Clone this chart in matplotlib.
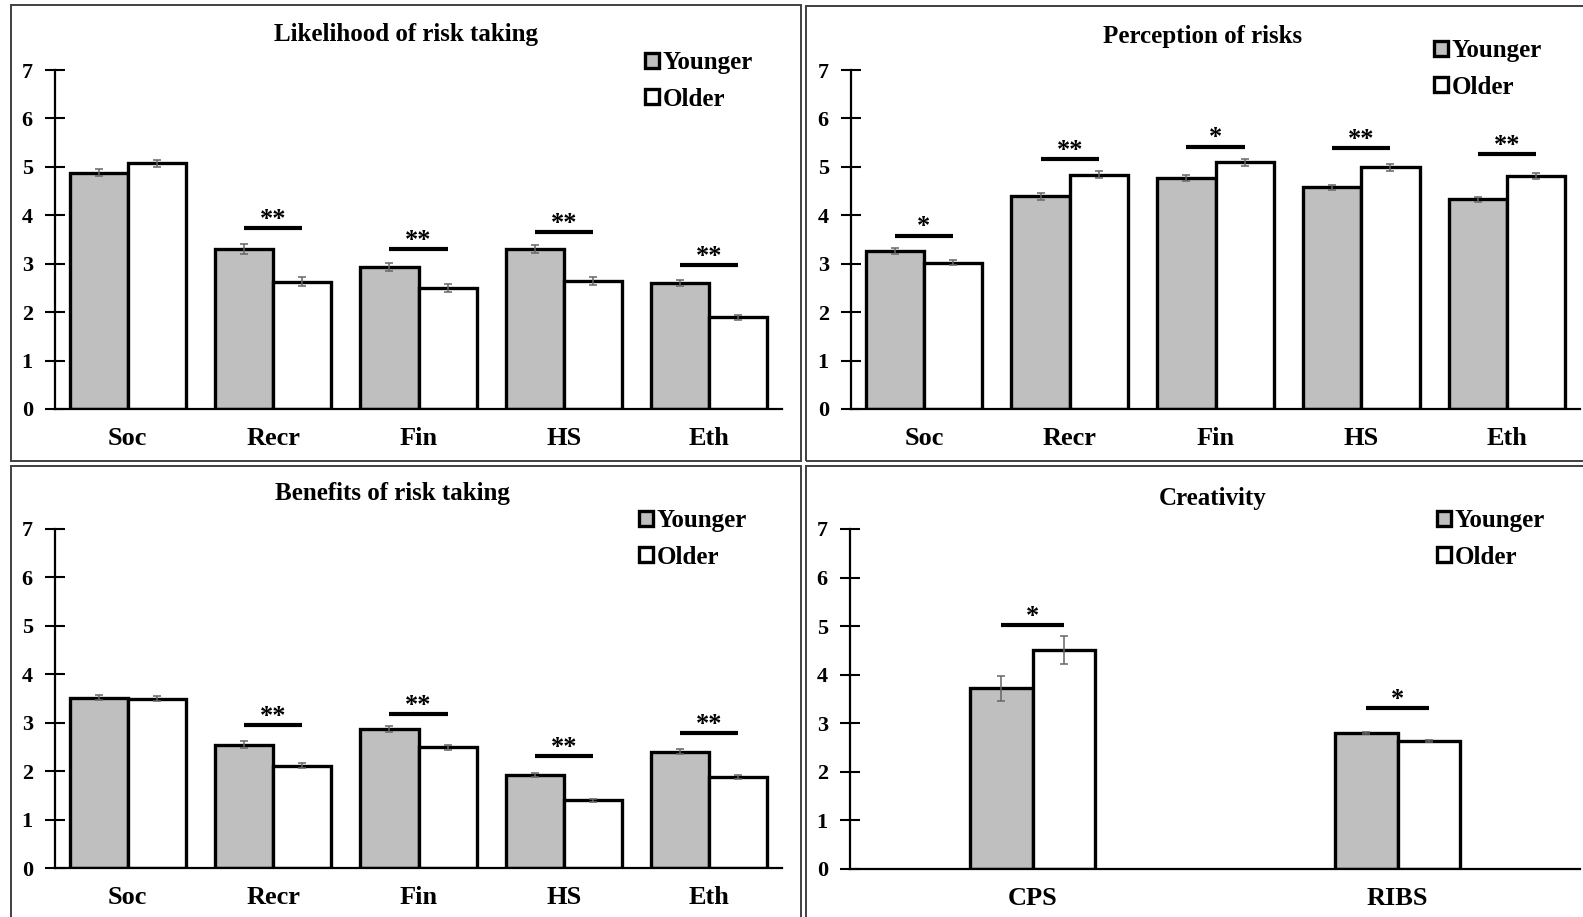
import matplotlib
matplotlib.use('Agg')
import matplotlib.pyplot as plt
from matplotlib.patches import Rectangle
import numpy as np

plt.rcParams['font.family'] = ['Liberation Serif', 'DejaVu Serif']
plt.rcParams['font.weight'] = 'bold'

### Data

domains = ['Soc', 'Recr', 'Fin', 'HS', 'Eth']
groups = ['Younger', 'Older']

# Likelihood of risk taking
like_young = [4.88, 3.30, 2.93, 3.30, 2.60]
like_old = [5.07, 2.63, 2.50, 2.65, 1.89]
like_young_err = [0.07, 0.10, 0.08, 0.08, 0.06]
like_old_err = [0.07, 0.10, 0.08, 0.08, 0.05]
like_sig = ['', '**', '**', '**', '**']
like_sig_y = [None, 3.73, 3.30, 3.65, 2.97]

# Perception of risks
perc_young = [3.27, 4.39, 4.77, 4.58, 4.33]
perc_old = [3.02, 4.84, 5.09, 4.99, 4.81]
perc_young_err = [0.06, 0.07, 0.06, 0.05, 0.05]
perc_old_err = [0.05, 0.07, 0.07, 0.07, 0.06]
perc_sig = ['*', '**', '*', '**', '**']
perc_sig_y = [3.58, 5.16, 5.42, 5.38, 5.27]

# Benefits of risk taking
bene_young = [3.52, 2.55, 2.87, 1.92, 2.40]
bene_old = [3.50, 2.11, 2.49, 1.40, 1.88]
bene_young_err = [0.06, 0.07, 0.06, 0.05, 0.05]
bene_old_err = [0.06, 0.05, 0.06, 0.03, 0.04]
bene_sig = ['', '**', '**', '**', '**']
bene_sig_y = [None, 2.95, 3.18, 2.31, 2.79]

# Creativity
crea_measures = ['CPS', 'RIBS']
crea_young = [3.72, 2.80]
crea_old = [4.51, 2.63]
crea_young_err = [0.26, 0.03]
crea_old_err = [0.29, 0.02]
crea_sig = ['*', '*']
crea_sig_y = [5.02, 3.31]

### Layout helpers (pixel coords, origin top-left)

W, H = 1583, 917
fig = plt.figure(figsize=(W / 100, H / 100), dpi=100)

def ax_rect(x0, y0, x1, y1):
    return [x0 / W, 1 - y1 / H, (x1 - x0) / W, (y1 - y0) / H]

def fig_xy(x, y):
    return x / W, 1 - y / H

def panel_box(x0, y0, x1, y1):
    r = Rectangle((x0 / W, 1 - y1 / H), (x1 - x0) / W, (y1 - y0) / H,
                  transform=fig.transFigure, fill=False, ec='#404040', lw=1.4)
    fig.add_artist(r)

def draw_panel(rect, cats, young, old, yerr, oerr, sig, sig_y, width,
               title, title_xy, legend_xy):
    ax = fig.add_axes(rect)
    x = np.arange(len(cats))
    bar_kw = dict(edgecolor='black', linewidth=2.4,
                  error_kw=dict(ecolor='#666666', elinewidth=1.1, capsize=3, capthick=1.1))
    ax.bar(x - width / 2, young, width, yerr=yerr, color='#bfbfbf', label=groups[0], **bar_kw)
    ax.bar(x + width / 2, old, width, yerr=oerr, color='white', label=groups[1], **bar_kw)

    # Significance bars
    for i, s in enumerate(sig):
        if not s:
            continue
        ax.plot([x[i] - width / 2, x[i] + width / 2], [sig_y[i], sig_y[i]],
                color='black', lw=3, solid_capstyle='butt')
        ax.annotate(s, (x[i], sig_y[i]), xytext=(0, -2), textcoords='offset points',
                    ha='center', va='bottom', fontsize=19, fontweight='bold')

    ax.set_xlim(-0.5, len(cats) - 0.5)
    ax.set_ylim(0, 7)
    ax.set_yticks(range(8))
    ax.set_xticks(x)
    ax.set_xticklabels(cats, fontsize=19, fontweight='bold')
    for lab in ax.get_yticklabels():
        lab.set_fontsize(16)
        lab.set_fontweight('bold')
    ax.tick_params(axis='y', direction='inout', length=14, width=1.5, pad=9)
    ax.tick_params(axis='x', length=0, pad=13)
    for side in ['top', 'right']:
        ax.spines[side].set_visible(False)
    ax.spines['left'].set_linewidth(1.6)
    ax.spines['bottom'].set_linewidth(1.6)
    ax.patch.set_visible(False)

    tx, ty = fig_xy(*title_xy)
    fig.text(tx, ty, title, ha='center', va='center', fontsize=18, fontweight='bold')

    lx, ly = fig_xy(*legend_xy)
    ax.legend(loc='upper left', bbox_to_anchor=(lx, ly), bbox_transform=fig.transFigure,
              frameon=False, fontsize=18, handlelength=0.55, handleheight=0.55,
              handletextpad=0.15, labelspacing=0.55, borderpad=0, borderaxespad=0)
    return ax

# Panel borders
panel_box(11, 5, 801, 461)
panel_box(806, 6, 1600, 461)
panel_box(11, 466, 801, 930)
panel_box(806, 466, 1600, 930)

draw_panel(ax_rect(55, 70, 782, 409), domains, like_young, like_old,
           like_young_err, like_old_err, like_sig, like_sig_y, 0.4,
           'Likelihood of risk taking', (406, 34), (645, 51))
draw_panel(ax_rect(851, 70, 1580, 409), domains, perc_young, perc_old,
           perc_young_err, perc_old_err, perc_sig, perc_sig_y, 0.4,
           'Perception of risks', (1203, 36), (1434, 39))
draw_panel(ax_rect(55, 529, 782, 868), domains, bene_young, bene_old,
           bene_young_err, bene_old_err, bene_sig, bene_sig_y, 0.4,
           'Benefits of risk taking', (392, 494), (639, 509))
draw_panel(ax_rect(850, 529, 1580, 869), crea_measures, crea_young, crea_old,
           crea_young_err, crea_old_err, crea_sig, crea_sig_y, 0.17,
           'Creativity', (1213, 499), (1437, 509))

fig.savefig('out.png', dpi=100)
